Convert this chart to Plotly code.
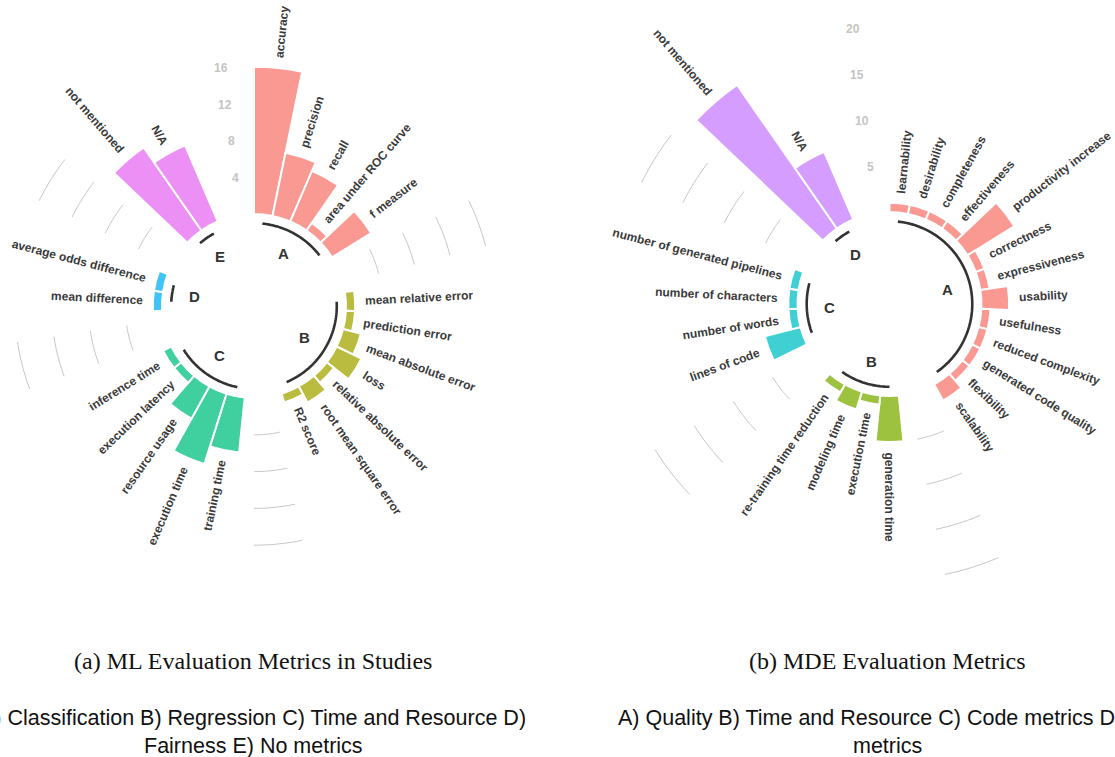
import math
import numpy as np
import plotly.graph_objects as go

W, H = 1115, 757

# ---------------- (a) ML evaluation metrics ----------------
ml_groups = ["A", "B", "C", "D", "E"]
ml_A_labels = ["accuracy", "precision", "recall", "area under ROC curve", "f measure"]
ml_A_values = [16, 7, 6, 1, 5]
ml_B_labels = ["mean relative error", "prediction error", "mean absolute error", "loss",
               "relative absolute error", "root mean square error", "R2 score"]
ml_B_values = [1, 1, 2, 3, 1, 2, 1]
ml_C_labels = ["training time", "execution time", "resource usage", "execution latency", "inference time"]
ml_C_values = [6, 8, 4, 1, 1]
ml_D_labels = ["mean difference", "average odds difference"]
ml_D_values = [1, 1]
ml_E_labels = ["not mentioned", "N/A"]
ml_E_values = [11, 9]
ml_colors = ["#FA9892", "#BABC40", "#40CF9E", "#40C4F8", "#ED90F6"]
ml_ticks = [4, 8, 12, 16]

# ---------------- (b) MDE evaluation metrics ----------------
mde_groups = ["A", "B", "C", "D"]
mde_A_labels = ["learnability", "desirability", "completeness", "effectiveness", "productivity increase",
                "correctness", "expressiveness", "usability", "usefulness", "reduced complexity",
                "generated code quality", "flexibility", "scalability"]
mde_A_values = [1, 1, 1, 1, 6, 1, 1, 3, 1, 1, 1, 1, 2]
mde_B_labels = ["generation time", "execution time", "modeling time", "re-training time reduction"]
mde_B_values = [5, 1, 2, 1]
mde_C_labels = ["lines of code", "number of words", "number of characters", "number of generated pipelines"]
mde_C_values = [4, 1, 1, 1]
mde_D_labels = ["not mentioned", "N/A"]
mde_D_values = [19, 8]
mde_colors = ["#FA9892", "#9DC240", "#40CFD3", "#D59DFF"]
mde_ticks = [5, 10, 15, 20]

caption_a = "(a) ML Evaluation Metrics in Studies"
legend_a = ["A) Classification B) Regression C) Time and Resource D)", "Fairness E) No metrics"]
caption_b = "(b) MDE Evaluation Metrics"
legend_b = ["A) Quality B) Time and Resource C) Code metrics D) No", "metrics"]

# ---------------- geometry / style ----------------
EMPTY = 2          # empty slots after each group
RMIN = -10         # radial value at the centre
SCALE = 9.2        # pixels per radial unit
LABEL_SIZE = 12
LABEL_GAP = 1.0    # radial gap (data units) between bar end and its label
SANS = "Liberation Sans, Arial, Helvetica, sans-serif"
SERIF = "Liberation Serif, Times New Roman, serif"

HB = {'a': 556, 'b': 611, 'c': 556, 'd': 611, 'e': 556, 'f': 333, 'g': 611, 'h': 611, 'i': 278,
      'j': 278, 'k': 556, 'l': 278, 'm': 889, 'n': 611, 'o': 611, 'p': 611, 'q': 611, 'r': 389,
      's': 556, 't': 333, 'u': 611, 'v': 556, 'w': 778, 'x': 556, 'y': 556, 'z': 500,
      'A': 722, 'B': 722, 'C': 722, 'D': 722, 'E': 667, 'F': 611, 'M': 833, 'N': 722,
      'O': 778, 'R': 722, 'S': 667, '2': 556, '/': 278, '-': 333, ' ': 278}


def text_width(s, size):
    return sum(HB.get(ch, 556) for ch in s) / 1000.0 * size


def sector_bbox(s0, s1):
    a0 = s0 % 360
    a1 = a0 + (s1 - s0)
    pts = [(0.0, 0.0), (math.cos(math.radians(a0)), math.sin(math.radians(a0))),
           (math.cos(math.radians(a1)), math.sin(math.radians(a1)))]
    for k in range(0, 721, 90):
        if a0 <= k <= a1:
            pts.append((round(math.cos(math.radians(k))), round(math.sin(math.radians(k)))))
    xs = [p[0] for p in pts]
    ys = [p[1] for p in pts]
    return min(xs), min(ys), max(xs), max(ys)


def polar_layout(cx, cy, rmax, sector=None):
    R = (rmax - RMIN) * SCALE
    if sector is None:
        x0, y0, x1, y1 = -1, -1, 1, 1
    else:
        x0, y0, x1, y1 = sector_bbox(*sector)
    d = dict(
        domain=dict(x=[(cx + R * x0) / W, (cx + R * x1) / W],
                    y=[1 - (cy - R * y0) / H, 1 - (cy - R * y1) / H]),
        bgcolor="rgba(0,0,0,0)",
        radialaxis=dict(range=[RMIN, rmax], visible=False, showgrid=False),
        angularaxis=dict(rotation=90, direction="clockwise", visible=False, showgrid=False),
    )
    if sector is not None:
        d["sector"] = list(sector)
    return d


fig = go.Figure()
annotations = []


def add_chart(subplots, grid_pid, groups, labels_list, values_list, colors, ticks, cx, cy):
    n_slots = sum(len(v) for v in values_list) + EMPTY * len(groups)
    step = 360.0 / n_slots

    def to_paper(theta, val):
        rp = (val - RMIN) * SCALE
        t = math.radians(theta)
        return (cx + rp * math.sin(t)) / W, 1 - (cy - rp * math.cos(t)) / H

    slot = 1
    gaps = []
    for pid, g, labs, vals, col in zip(subplots, groups, labels_list, values_list, colors):
        ids = list(range(slot, slot + len(vals)))
        thetas = [(i - 0.5) * step for i in ids]
        fig.add_trace(go.Barpolar(
            r=vals, theta=thetas, width=[step] * len(vals), subplot=pid,
            marker=dict(color=col, line=dict(color="white", width=2)),
            hoverinfo="skip", showlegend=False))
        arc_t = np.linspace(thetas[0], thetas[-1], 40)
        fig.add_trace(go.Scatterpolar(
            r=[-1] * len(arc_t), theta=arc_t, mode="lines", subplot=pid,
            line=dict(color="#333333", width=2.6), hoverinfo="skip", showlegend=False))
        tmid = (thetas[0] + thetas[-1]) / 2
        x, y = to_paper(tmid, -3.5)
        annotations.append(dict(x=x, y=y, xref="paper", yref="paper", text="<b>%s</b>" % g,
                                showarrow=False, xanchor="center", yanchor="middle",
                                font=dict(size=15, color="#333333", family=SANS)))
        for lab, v, th in zip(labs, vals, thetas):
            wpx = text_width(lab, LABEL_SIZE)
            rc = v + LABEL_GAP + (wpx / 2 + 1) / SCALE
            x, y = to_paper(th, rc)
            ang = th - 90 if th <= 180 + 1e-6 else th - 270
            annotations.append(dict(x=x, y=y, xref="paper", yref="paper", text="<b>%s</b>" % lab,
                                    showarrow=False, xanchor="center", yanchor="middle",
                                    textangle=ang,
                                    font=dict(size=LABEL_SIZE, color="#3a3a3a", family=SANS)))
        gaps.append((slot + len(vals), slot + len(vals) + EMPTY - 1))
        slot += len(vals) + EMPTY

    for g0, g1 in gaps[:-1]:
        t0, t1 = (g0 - 0.5) * step, (g1 - 0.5) * step
        tt = np.linspace(t0, t1, 20)
        for tk in ticks:
            fig.add_trace(go.Scatterpolar(
                r=[tk] * len(tt), theta=tt, mode="lines", subplot=grid_pid,
                line=dict(color="#c4c4c4", width=1), hoverinfo="skip", showlegend=False))

    tt = (n_slots - 0.5) * step
    for tk in ticks:
        x, y = to_paper(tt, tk)
        annotations.append(dict(x=x, y=y, xref="paper", yref="paper", text="<b>%d</b>" % tk,
                                showarrow=False, xanchor="right", yanchor="middle",
                                font=dict(size=12, color="#c4c4c4", family=SANS)))


CXA, CYA = 254, 306
CXB, CYB = 889.5, 304

add_chart(["polar"] * 5, "polar", ml_groups,
          [ml_A_labels, ml_B_labels, ml_C_labels, ml_D_labels, ml_E_labels],
          [ml_A_values, ml_B_values, ml_C_values, ml_D_values, ml_E_values],
          ml_colors, ml_ticks, CXA, CYA)
add_chart(["polar2", "polar3", "polar3", "polar3"], "polar3", mde_groups,
          [mde_A_labels, mde_B_labels, mde_C_labels, mde_D_labels],
          [mde_A_values, mde_B_values, mde_C_values, mde_D_values],
          mde_colors, mde_ticks, CXB, CYB)

for txt, cxp in ((caption_a, 253), (caption_b, 887)):
    annotations.append(dict(x=cxp / W, y=1 - 661 / H, xref="paper", yref="paper",
                            text=txt, showarrow=False, xanchor="center", yanchor="middle",
                            font=dict(size=24, color="#111111", family=SERIF)))
for lines, cxp in ((legend_a, 253), (legend_b, 887)):
    for line, ly in zip(lines, (718, 746)):
        annotations.append(dict(x=cxp / W, y=1 - ly / H, xref="paper", yref="paper",
                                text=line, showarrow=False, xanchor="center", yanchor="middle",
                                font=dict(size=21.5, color="#111111", family=SANS)))

fig.update_layout(
    width=W, height=H, margin=dict(l=0, r=0, t=0, b=0),
    paper_bgcolor="white", plot_bgcolor="white", showlegend=False,
    polar=polar_layout(CXA, CYA, 16.6),
    polar2=polar_layout(CXB, CYB, 14),
    polar3=polar_layout(CXB, CYB, 20.5, sector=(110, 305)),
    annotations=annotations,
)

fig.write_html("out.html", config={"displayModeBar": False},
               post_script="document.body.style.margin='0px';")
